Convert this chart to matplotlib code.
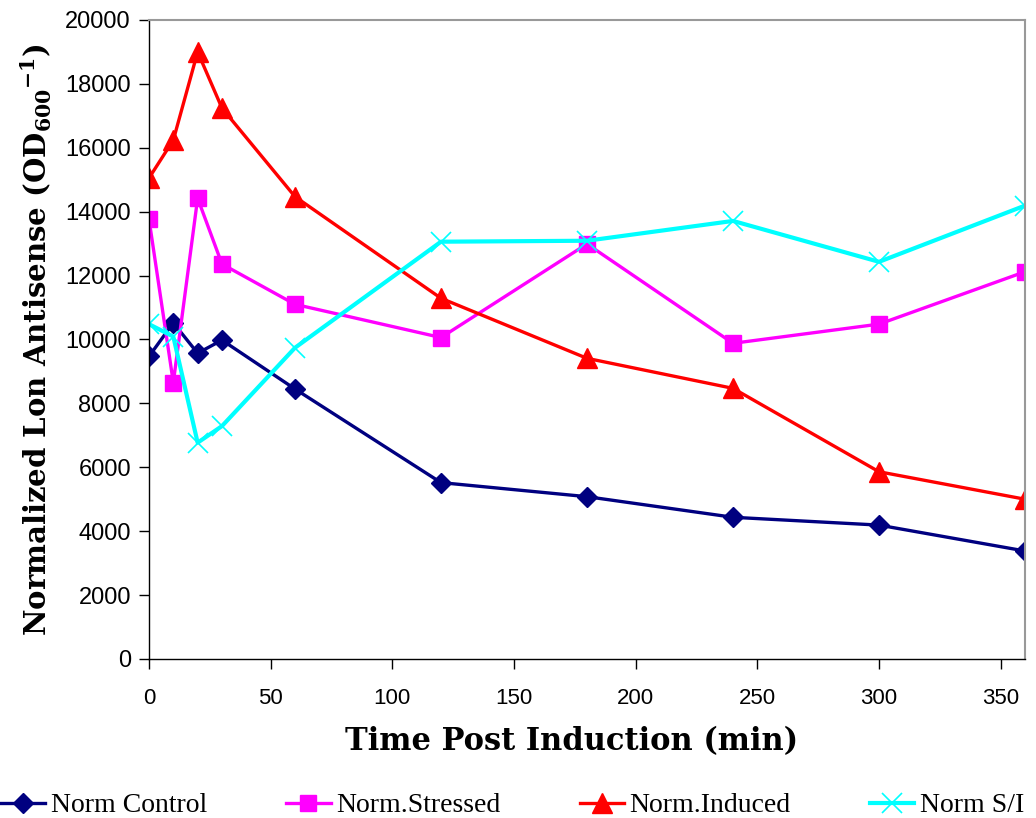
import matplotlib.pyplot as plt

# time points (min)
times = [0, 10, 20, 30, 60, 120, 180, 240, 300, 360]

norm_control = [9470, 10520, 9570, 9980, 8450, 5520, 5080, 4435, 4190, 3380]
norm_stressed = [13770, 8650, 14420, 12360, 11100, 10060, 12990, 9880, 10480, 12120]
norm_induced = [15050, 16240, 19000, 17240, 14470, 11290, 9410, 8470, 5860, 5000]
norm_si = [10480, 10090, 6770, 7290, 9740, 13060, 13090, 13710, 12430, 14190]

series_names = ['Norm Control', 'Norm.Stressed', 'Norm.Induced', 'Norm S/I']

fig = plt.figure(figsize=(10.36, 8.18), dpi=100)
ax = fig.add_axes([0.1438, 0.1944, 0.8456, 0.7812])

ax.plot(times, norm_control, color='#000080', marker='D', markersize=10, lw=2.4,
        label=series_names[0])
ax.plot(times, norm_stressed, color='#FF00FF', marker='s', markersize=12, lw=2.4,
        label=series_names[1])
ax.plot(times, norm_induced, color='#FF0000', marker='^', markersize=14, lw=2.4,
        label=series_names[2])
ax.plot(times, norm_si, color='#00FFFF', marker='x', markersize=14, lw=3,
        markeredgewidth=1.2, label=series_names[3])

ax.set_xlim(0, 360)
ax.set_ylim(0, 20000)
ax.set_xticks(range(0, 351, 50))
ax.set_yticks(range(0, 20001, 2000))

for lab in ax.get_yticklabels():
    lab.set_fontfamily('Liberation Sans')
    lab.set_fontsize(17)
for lab in ax.get_xticklabels():
    lab.set_fontfamily('Liberation Sans')
    lab.set_fontsize(16)

ax.tick_params(axis='both', direction='out', length=7, width=1, color='black')
ax.tick_params(axis='x', pad=14)
ax.tick_params(axis='y', pad=6)

for side in ['top', 'right']:
    ax.spines[side].set_color('#999999')
    ax.spines[side].set_linewidth(1.5)
for side in ['left', 'bottom']:
    ax.spines[side].set_color('black')
    ax.spines[side].set_linewidth(1)

ax.set_xlabel('Time Post Induction (min)', fontfamily='DejaVu Serif',
              fontweight='bold', fontsize=22, labelpad=15)
ax.xaxis.set_label_coords(0.482, -0.105)
ax.set_ylabel('Normalized Lon Antisense (OD$_{\\mathregular{600}}$$^{\\mathregular{-1}}$)',
              fontfamily='DejaVu Serif', fontweight='bold', fontsize=21, labelpad=8)

fig.legend(loc='lower left', bbox_to_anchor=(-0.01, -0.014), ncol=4, frameon=False,
           prop={'family': 'Liberation Serif', 'size': 20}, handlelength=1.6,
           handletextpad=0.2, columnspacing=2.85, borderaxespad=0.2, borderpad=0.2)

fig.savefig('out.png', dpi=100)
